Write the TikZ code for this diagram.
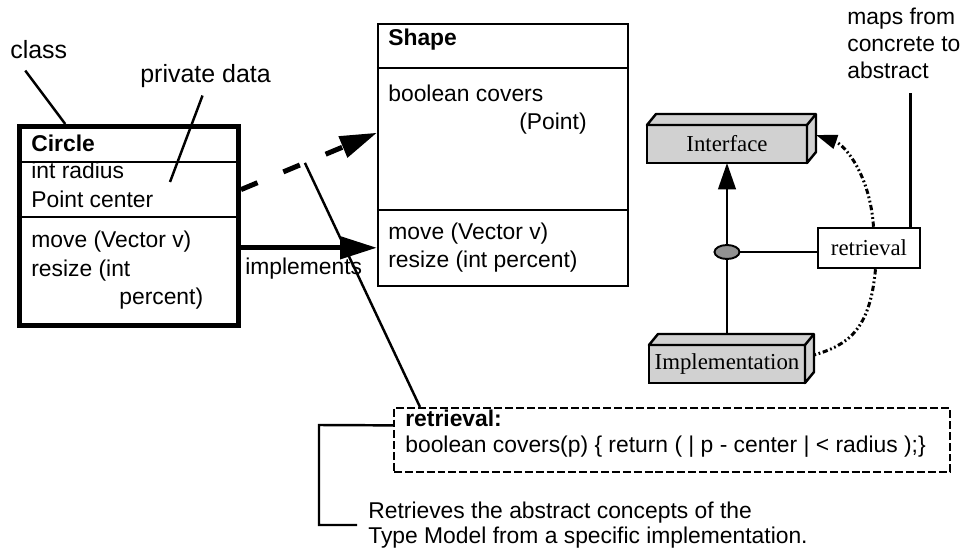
\documentclass[tikz,border=0pt]{standalone}
\usepackage{fontspec}
\setmainfont{Liberation Sans}
\newfontfamily\tmfont{Liberation Serif}
\usepackage{tikz}
\usetikzlibrary{arrows.meta,shapes.geometric}
\tikzset{
        txt/.style={anchor=base west,inner sep=0pt},
        lbl/.style={anchor=base west,inner sep=0pt,font=\fontsize{14.2}{17}\selectfont},
        part/.style={line width=1.1pt},
        lead/.style={line width=1.4pt},
        slab/.style={draw,fill=black!18,line width=1.4pt,inner sep=0pt,outer sep=0pt,font=\tmfont\fontsize{13}{16}\selectfont},
        dots/.style={line width=1.7pt,dash pattern=on 3pt off 1.5pt on 1pt off 1.5pt on 1pt off 1.5pt}
    }
\newcommand{\slabback}[1]{
\filldraw[fill=black!18,line width=1.4pt,line join=round] (#1.north west) -- ++(.18,.22) -| ([xshift=.18cm,yshift=.22cm]#1.south east) -- (#1.south east) -- (#1.north east) -- cycle;
\draw[line width=1.4pt] (#1.north east) -- ++(.18,.22);
}

\begin{document}
\begin{tikzpicture}[scale=1,font=\fontsize{13}{16.2}\selectfont,>={Triangle[length=21pt,width=12.5pt]}]
\useasboundingbox (0,0) rectangle (19.24,11.08);

\draw (2.58,6.56) node(CIRCLE)[draw,line width=2.85pt,minimum width=4.38cm,minimum height=3.98cm,inner sep=0pt]{};
\draw (10.06,7.98) node(SHAPE)[draw,line width=1.2pt,minimum width=5cm,minimum height=5.24cm,inner sep=0pt]{};
\draw[part] (CIRCLE.west |- 0,7.84) -- (CIRCLE.east |- 0,7.84);
\draw[part] (CIRCLE.west |- 0,6.74) -- (CIRCLE.east |- 0,6.74);
\draw[part] (SHAPE.west |- 0,9.72) -- (SHAPE.east |- 0,9.72);
\draw[part] (SHAPE.west |- 0,6.88) -- (SHAPE.east |- 0,6.88);

\draw (0.62,8.04) node(CNAME)[txt]{\bfseries Circle};
\draw (0.62,7.50) node(CRAD)[txt]{int radius};
\draw (0.62,6.92) node(CCEN)[txt]{Point center};
\draw (0.62,6.12) node(CMOVE)[txt]{move (Vector v)};
\draw (0.62,5.54) node(CSIZE)[txt]{resize (int};
\draw (2.38,4.98) node(CPCT)[txt]{percent)};

\draw (7.76,10.16) node(SNAME)[txt]{\bfseries Shape};
\draw (7.76,9.04) node(SCOV)[txt]{boolean covers};
\draw (10.38,8.48) node(SPT)[txt]{(Point)};
\draw (7.76,6.28) node(SMOVE)[txt]{move (Vector v)};
\draw (7.76,5.72) node(SSIZE)[txt]{resize (int percent)};

\draw (0.2,9.90) node(CLS)[lbl]{class};
\draw (2.8,9.42) node(PRIV)[lbl]{private data};
\coordinate (PD) at (3.4,7.44);
\draw[lead] ([xshift=-.27cm,yshift=-.22cm]CLS.south) -- (CIRCLE.122);
\draw[lead] ([xshift=-.06cm,yshift=-.14cm]PRIV.south) -- (PD);

\draw (13.44,2.28) node(RBOX)[draw,line width=1.2pt,dash pattern=on 4.5pt off 1.7pt,minimum width=11.12cm,minimum height=1.28cm,inner sep=0pt]{};
\draw (8.10,2.54) node(RTTL)[txt]{\bfseries retrieval:};
\draw (8.10,2.02) node(RCODE)[txt]{boolean covers(p) \{ return ( | p - center | < radius );\}};
\draw (7.14,0.58) node(NOTE)[anchor=west,align=left,inner xsep=.22cm,inner ysep=0pt,font=\fontsize{13}{14}\selectfont]{Retrieves the abstract concepts of the\\Type Model from a specific implementation.};

\draw[line width=2.85pt,dash pattern=on 10.2pt off 15.9pt,->] (CIRCLE.18) -- coordinate[pos=.47] (KINK) (SHAPE.170);
\draw[line width=2.85pt,->] (CIRCLE.-11) -- (CIRCLE.-11 -| SHAPE.west);
\draw (4.9,5.58) node(IMPLS)[txt]{implements};
\draw[lead] (KINK) -- ([xshift=.54cm]RBOX.north west);
\draw[lead] (RBOX.177) -- (6.38,2.58) |- (NOTE.west);

\draw (14.54,8.20) node(IFACE)[slab,minimum width=3.2cm,minimum height=.76cm]{Interface};
\draw (14.54,3.80) node(IMPL)[slab,minimum width=3.12cm,minimum height=.76cm]{Implementation};
\slabback{IFACE}
\slabback{IMPL}
\draw (14.54,6.04) node(ELL)[ellipse,draw,fill=black!43,line width=1.1pt,minimum width=.5cm,minimum height=.28cm,inner sep=0pt]{};
\draw (17.38,6.12) node(RETR)[draw,line width=1.4pt,minimum width=2.04cm,minimum height=.8cm,inner sep=0pt,font=\tmfont\fontsize{13}{16}\selectfont]{retrieval};
\draw (16.94,10.93) node(MAPS)[anchor=north west,align=left,inner sep=0pt,font=\fontsize{13}{15.4}\selectfont]{maps from\\concrete to\\abstract};

\draw[lead] ([yshift=.22cm]IMPL.north) -- (ELL);
\draw[lead,-{Triangle[length=15pt,width=10pt]}] (ELL) -- (IFACE);
\draw[lead] (ELL) -- (ELL -| RETR.west);
\draw[lead,shorten >=.28cm] (RETR.27) -- (RETR.27 |- MAPS.south);

\draw[dots,-{Triangle[length=12pt,width=8pt]}] (RETR.78) .. controls (17.4,7.58) and (16.9,8.18) .. ([xshift=.18cm,yshift=.18cm]IFACE.east);
\draw[dots] (RETR.-73) .. controls (17.4,4.48) and (16.96,4.18) .. ([xshift=.18cm,yshift=.18cm]IMPL.east);

\end{tikzpicture}
\end{document}
